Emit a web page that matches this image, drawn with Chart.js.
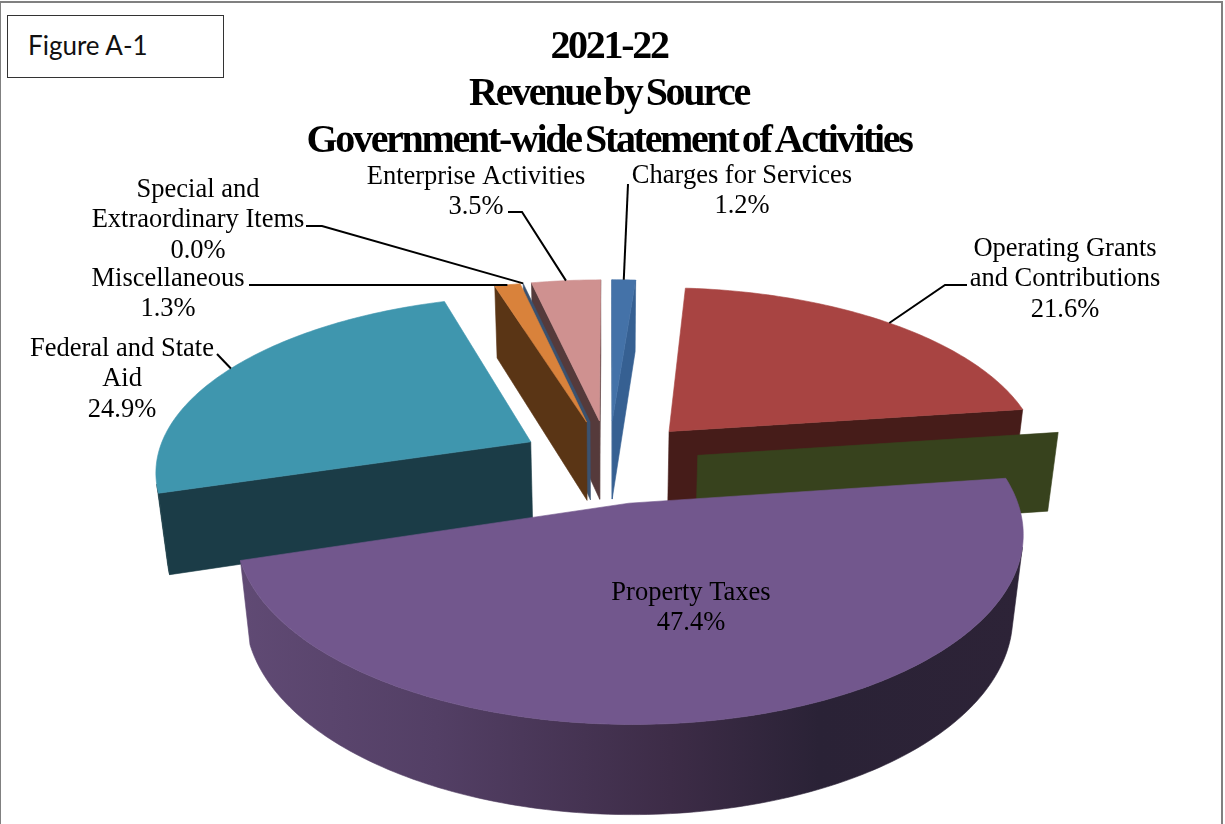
<!DOCTYPE html>
<html>
<head>
<meta charset="utf-8">
<title>Revenue by Source</title>
<script src="https://cdn.jsdelivr.net/npm/chart.js@4"></script>
<style>
  html, body { margin: 0; padding: 0; background: #fff; overflow: hidden; }
  #page { position: relative; width: 1225px; height: 824px; overflow: hidden; }
  #marco { position: absolute; left: 0; top: 1px; width: 1220px; height: 860px;
           border: 1px solid #808080; border-right-width: 2px; border-top-width: 2px; }
  #figura { position: absolute; left: 7px; top: 15px; width: 215px; height: 61px;
            border: 1px solid #333; font: 26px Lato, sans-serif; color: #111;
            line-height: 58px; text-indent: 20px; background: #fff; }
  canvas { position: absolute; left: 0; top: 0; }
</style>
</head>
<body>
<div id="page">
  <div id="marco"></div>
  <canvas id="grafico" width="1225" height="824"></canvas>
  <div id="figura">Figure A-1</div>
</div>
<script>
// ------------------------------------------------------
// Datos
// ------------------------------------------------------
const categories = [
  "Charges for Services",
  "Operating Grants and Contributions",
  "Capital Grants and Contributions",
  "Property Taxes",
  "Federal and State Aid",
  "Miscellaneous",
  "Special and Extraordinary Items",
  "Enterprise Activities",
];
const shares = [1.2, 21.6, 0.0, 47.4, 24.9, 1.3, 0.0, 3.5];
const titleLines = ["2021-22", "Revenue by Source", "Government-wide Statement of Activities"];

// Rótulos: una entrada por porción, null en la que no lleva texto
const labelLines = [
  ["Charges for Services"],
  ["Operating Grants", "and Contributions"],
  null,
  ["Property Taxes"],
  ["Federal and State", "Aid"],
  ["Miscellaneous"],
  ["Special and", "Extraordinary Items"],
  ["Enterprise Activities"],
];

const faceColors = ["#4472a8", "#a84442", "#7f9a45", "#72578d", "#3f96ae", "#d9823b", "#5d7ea6", "#cf9190"];
const wallColors = ["#366092", "#461c19", "#37421d", "#2d2337", "#1b3c47", "#5a3515", "#3a5270", "#553a3b"];
// Sombreado del borde curvo de Property Taxes, de izquierda a derecha
const curvedWallShade = {
  3: [[0, "#604a74"], [0.25, "#533f65"], [0.55, "#3d2c47"], [0.74, "#2a2236"], [1, "#2d2337"]],
};

// ------------------------------------------------------
// Disposición
// ------------------------------------------------------
const PIE_RADIUS = 375;
const EXPLODE = 90;
const TILT = 0.463;        // achatamiento del plano de la torta
const PERSPECTIVE = 0.000403;
const WALL_DROP = 82;      // altura de la pared en pantalla
const WALL_RECEDE = 0.0245; // la base queda más lejos de la cámara

const LABEL_FONT = '26.5px "Liberation Serif", serif';
const LABEL_PITCH = 30.5;
// centro x e y de la primera línea de cada rótulo
const labelPlaces = [
  [742, 176], [1065, 249], null, [691, 593], [122, 349], [168, 279], [198, 190], [476, 177],
];
// tramo fijo de cada línea guía; el último punto sale del borde de la porción
const leaderStarts = [
  [[628, 184]],
  [[967, 285], [945, 285]],
  null,
  null,
  [[217, 354]],
  [[249, 285]],
  [[306, 226], [322, 226]],
  [[508, 212], [522, 212]],
];

/* =======================================================
   Proyección de la torta en 3D
======================================================= */
function proyectar(cx, cy, u, v, abajo) {
  const w = 1 - PERSPECTIVE * v + (abajo ? WALL_RECEDE : 0);
  return {
    x: cx + u / w,
    y: cy + (TILT * v + (abajo ? WALL_DROP : 0)) / w,
  };
}

function areaFirmada(pts) {
  let s = 0;
  pts.forEach((p, i) => {
    const q = pts[(i + 1) % pts.length];
    s += p.x * q.y - q.x * p.y;
  });
  return s;
}

function trazar(ctx, pts) {
  ctx.beginPath();
  pts.forEach((p, i) => (i ? ctx.lineTo(p.x, p.y) : ctx.moveTo(p.x, p.y)));
  ctx.closePath();
}

function rimDeArco(arc, angulo) {
  const mid = (arc.startAngle + arc.endAngle) / 2;
  const off = arc.options.offset;
  return {
    u: off * Math.cos(mid) + arc.outerRadius * Math.cos(angulo),
    v: off * Math.sin(mid) + arc.outerRadius * Math.sin(angulo),
  };
}

class Pie3dSlice extends Chart.ArcElement {
  static id = "pie3dSlice";

  draw(ctx) {
    const { x, y, startAngle, endAngle, options } = this;
    const mid = (startAngle + endAngle) / 2;
    const apice = { u: options.offset * Math.cos(mid), v: options.offset * Math.sin(mid) };
    const pasos = Math.max(1, Math.ceil(((endAngle - startAngle) * 180) / Math.PI));
    const borde = [];
    for (let i = 0; i <= pasos; i++) {
      borde.push(rimDeArco(this, startAngle + ((endAngle - startAngle) * i) / pasos));
    }

    const pared = (a, b) => [
      proyectar(x, y, a.u, a.v, false),
      proyectar(x, y, b.u, b.v, false),
      proyectar(x, y, b.u, b.v, true),
      proyectar(x, y, a.u, a.v, true),
    ];

    ctx.save();
    ctx.lineJoin = "round";
    ctx.lineWidth = 0.6;

    // paredes radiales (solo las que miran a la cámara)
    [[apice, borde[0]], [borde[pasos], apice]].forEach(([a, b]) => {
      const quad = pared(a, b);
      if (areaFirmada(quad) < 0) {
        ctx.fillStyle = ctx.strokeStyle = options.borderColor;
        trazar(ctx, quad);
        ctx.fill();
        ctx.stroke();
      }
    });

    // pared curva: un solo polígono por cada tramo visible del borde
    let tramo = [];
    const cerrarTramo = () => {
      if (tramo.length > 1) {
        const arriba = tramo.map((p) => proyectar(x, y, p.u, p.v, false));
        const abajo = tramo.map((p) => proyectar(x, y, p.u, p.v, true)).reverse();
        const poligono = [...arriba, ...abajo];
        const shade = curvedWallShade[this.$context.index];
        let relleno = options.borderColor;
        if (shade) {
          const xs = poligono.map((p) => p.x);
          relleno = ctx.createLinearGradient(Math.min(...xs), 0, Math.max(...xs), 0);
          shade.forEach(([pos, color]) => relleno.addColorStop(pos, color));
        }
        ctx.fillStyle = ctx.strokeStyle = relleno;
        trazar(ctx, poligono);
        ctx.fill();
        ctx.stroke();
      }
      tramo = [];
    };
    for (let i = 0; i < pasos; i++) {
      if (areaFirmada(pared(borde[i], borde[i + 1])) < 0) {
        if (!tramo.length) tramo.push(borde[i]);
        tramo.push(borde[i + 1]);
      } else {
        cerrarTramo();
      }
    }
    cerrarTramo();

    // cara superior
    if (endAngle > startAngle) {
      const cara = [apice, ...borde].map((p) => proyectar(x, y, p.u, p.v, false));
      ctx.fillStyle = ctx.strokeStyle = options.backgroundColor;
      trazar(ctx, cara);
      ctx.fill();
      ctx.stroke();
    }
    ctx.restore();
  }
}

class Pie3dController extends Chart.PieController {
  static id = "pie3d";
  static defaults = { dataElementType: "pie3dSlice" };

  // de atrás hacia adelante, según dónde cae el ápice de cada porción
  draw() {
    const profundidad = (el) => el.options.offset * Math.sin((el.startAngle + el.endAngle) / 2);
    [...this._cachedMeta.data]
      .sort((a, b) => profundidad(a) - profundidad(b))
      .forEach((el) => el.draw(this.chart.ctx));
  }
}

Chart.register(Pie3dSlice, Pie3dController);

/* =======================================================
   Rótulos y líneas guía
======================================================= */
const rotulosPlugin = {
  id: "rotulos",
  beforeDraw(chart) {
    // el título va apretado
    chart.ctx.letterSpacing = "-2.3px";
    chart.ctx.wordSpacing = "-3.5px";
  },
  beforeDatasetsDraw(chart) {
    chart.ctx.letterSpacing = "0px";
    chart.ctx.wordSpacing = "0px";
  },
  afterDatasetsDraw(chart) {
    const ctx = chart.ctx;
    const arcs = chart.getDatasetMeta(0).data;
    ctx.save();
    ctx.strokeStyle = "#000";
    ctx.lineWidth = 2;
    arcs.forEach((arc, i) => {
      const inicio = leaderStarts[i];
      if (!inicio) return;
      const rim = rimDeArco(arc, (arc.startAngle + arc.endAngle) / 2);
      const fin = proyectar(arc.x, arc.y, rim.u, rim.v, false);
      ctx.beginPath();
      inicio.forEach(([px, py], n) => (n ? ctx.lineTo(px, py) : ctx.moveTo(px, py)));
      ctx.lineTo(fin.x, fin.y);
      ctx.stroke();
    });

    ctx.fillStyle = "#000";
    ctx.font = LABEL_FONT;
    ctx.textAlign = "center";
    ctx.textBaseline = "middle";
    labelLines.forEach((lineas, i) => {
      if (!lineas) return;
      const [px, py] = labelPlaces[i];
      [...lineas, shares[i].toFixed(1) + "%"].forEach((txt, n) => {
        ctx.fillText(txt, px, py + n * LABEL_PITCH);
      });
    });
    ctx.restore();
  },
};

/* =======================================================
   Gráfico
======================================================= */
new Chart(document.getElementById("grafico"), {
  type: "pie3d",
  data: {
    labels: categories,
    datasets: [
      {
        data: shares,
        backgroundColor: faceColors,
        borderColor: wallColors,
        borderWidth: 0,
        offset: EXPLODE,
        clip: false,
      },
    ],
  },
  options: {
    responsive: false,
    animation: false,
    events: [],
    radius: PIE_RADIUS,
    layout: { padding: { left: 0, right: 7, top: 0, bottom: 67 } },
    plugins: {
      legend: { display: false },
      tooltip: { enabled: false },
      title: {
        display: true,
        text: titleLines,
        color: "#000",
        font: { family: '"Liberation Serif", serif', size: 40, weight: "bold", lineHeight: 1.175 },
        padding: { top: 24, bottom: 0 },
      },
    },
  },
  plugins: [rotulosPlugin],
});
</script>
</body>
</html>
